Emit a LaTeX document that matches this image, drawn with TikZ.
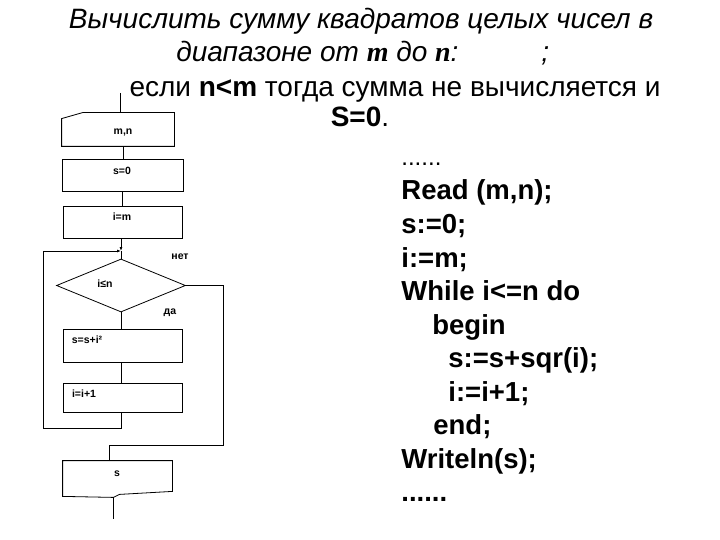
\documentclass[tikz,border=0pt]{standalone}
\usepackage{fontspec}
\setmainfont{Liberation Sans}
\newfontfamily\tnr{Liberation Serif}
\usetikzlibrary{arrows.meta,shapes.geometric}
\begin{document}
\begin{tikzpicture}[x=1pt,y=-1pt,line width=0.8pt,
  title/.style={inner sep=0pt,font=\fontsize{28}{32}\selectfont\itshape},
  plain/.style={inner sep=0pt,font=\fontsize{28}{32}\selectfont},
  code/.style={anchor=base west,inner sep=0pt,font=\fontsize{27.5}{33}\selectfont\bfseries},
  fct/.style={inner sep=0pt,font=\fontsize{10.5}{12}\selectfont\bfseries},
  lbl/.style={inner sep=0pt,font=\fontsize{10.5}{12}\selectfont\bfseries},
  blk/.style={draw,rectangle,inner sep=0pt},
  hid/.style={rectangle,inner sep=0pt},
  arr/.style={-{Latex[length=4pt,width=3pt]}}]
\useasboundingbox (0,0) rectangle (720,540);

% ---- heading
\node[title,anchor=base] (t1) at (361,29) {Вычислить сумму квадратов целых чисел в};
\node[title,anchor=base west] (t2) at (176,62) {диапазоне от {\tnr\bfseries m} до {\tnr\bfseries n}:};
\node[title,anchor=base west] (t2b) at (541,62) {;};
\node[plain,anchor=base] (t3) at (395,97) {если \textbf{n<m} тогда сумма не вычисляется и};
\node[plain,anchor=base] (t4) at (360,127) {\textbf{S=0}.};

% ---- program text
\node[code,font=\fontsize{24}{28}\selectfont] (c0) at (401,166) {......};
\node[code] (c1) at (401,200) {Read (m,n);};
\node[code] (c2) at (401,233.5) {s:=0;};
\node[code] (c3) at (401,267) {i:=m;};
\node[code] (c4) at (401,300.5) {While i<=n do};
\node[code] (c5) at (432,334) {begin};
\node[code] (c6) at (448,367.5) {s:=s+sqr(i);};
\node[code] (c7) at (448,401) {i:=i+1;};
\node[code] (c8) at (433,434.5) {end;};
\node[code] (c9) at (401,468) {Writeln(s);};
\node[code] (c10) at (401,501.5) {......};

% ---- flowchart blocks
\node[hid,minimum width=112pt,minimum height=33pt] (in) at (118,129.5) {};
\draw (in.south west) -- (in.south east) -- (in.north east)
      -- ([shift={(21,0)}]in.north west) -- ([shift={(0,6)}]in.north west) -- cycle;
\node[fct] (tin) at (123,132) {m,n};

\node[blk,minimum width=121pt,minimum height=32pt] (s0) at (122.5,175) {};
\node[fct] (ts0) at (122,171) {s=0};

\node[blk,minimum width=119pt,minimum height=32pt] (im) at (122.5,222) {};
\node[fct] (tim) at (122,217) {i=m};

\node[draw,diamond,inner sep=0pt,minimum width=129pt,minimum height=53pt] (dia) at (121,285.5) {};
\node[fct] (tdia) at (105,284) {i≤n};

\node[blk,minimum width=119pt,minimum height=33pt] (b1) at (122.5,345.5) {};
\node[fct] (tb1) at (87,340) {s=s+i²};

\node[blk,minimum width=119pt,minimum height=29pt] (b2) at (122.5,397.5) {};
\node[fct] (tb2) at (84,394) {i=i+1};

\node[hid,minimum width=109pt,minimum height=30pt] (out) at (117.5,476) {};
\draw (out.north west) -- (out.north east) -- (out.south east)
      -- ([shift={(2,3)}]out.south) -- ([shift={(-4,6)}]out.south)
      -- ([shift={(0,5)}]out.south west) -- cycle;
\node[fct] (tout) at (117,474) {s};

\node[lbl] (no) at (180,257) {нет};
\node[lbl] (yes) at (170,313) {да};

% ---- connectors
\coordinate (start) at (120,93);
\coordinate (jn) at (121,251);
\coordinate (loopL) at (43,428);
\coordinate (rt) at (223,445);
\coordinate (fin) at (113.5,519);

\draw (start) -- ([xshift=2]in.north);
\draw ([xshift=5]in.south) -- ([xshift=0.5]s0.north);
\draw ([xshift=-0.5]s0.south) -- ([xshift=-0.5]im.north);
\draw[arr] ([xshift=-1.5]im.south) -- (jn);
\draw (jn) -- (dia.north);
\draw (dia.south) -- ([xshift=-1.5]b1.north);
\draw ([xshift=-1.5]b1.south) -- ([xshift=-1.5]b2.north);
\draw[arr] ([xshift=-1.5]b2.south) |- (loopL) |- (jn);
\draw (dia.east) -| (rt) -| ([xshift=-8.5]out.north);
\draw ([shift={(-4,6)}]out.south) -- (fin);
\end{tikzpicture}
\end{document}
